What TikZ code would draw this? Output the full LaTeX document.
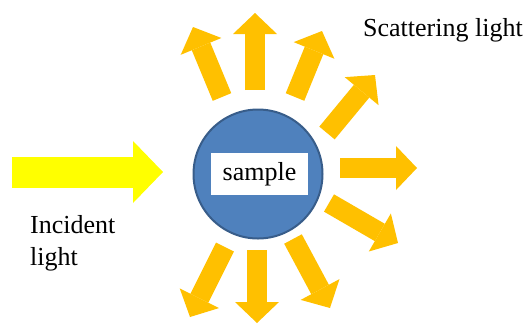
\documentclass[tikz,border=0pt]{standalone}
\usepackage{fontspec}
\setmainfont{Liberation Serif}
\usetikzlibrary{arrows.meta}
\definecolor{sampleblue}{HTML}{4F81BD}
\definecolor{sampleedge}{HTML}{385D8A}
\definecolor{scatorange}{HTML}{FFC000}
\definecolor{incyellow}{HTML}{FFFF00}
\begin{document}
\begin{tikzpicture}[x=1pt,y=-1pt,
    every node/.style={font=\fontsize{26}{32}\selectfont},
    scat/.style={scatorange,line width=20pt,-{Triangle[length=21pt,width=44pt,line width=0pt]}},
    incident/.style={incyellow,line width=31pt,-{Triangle[length=30pt,width=62pt,line width=0pt]}}]
  \useasboundingbox (0,0) rectangle (527,325);
  % Sample
  \node[circle,draw=sampleedge,line width=2pt,fill=sampleblue,minimum size=129pt] (sample) at (258,174) {};
  \node[fill=white,minimum width=97pt,minimum height=42pt,inner sep=0pt] (box) at (259.5,174) {sample};
  % Incident light
  \coordinate (src) at (12,172);
  \coordinate (hit) at (163,172);
  \draw[incident] (src) -- (hit);
  \node[anchor=base west,align=left,inner sep=0pt] (inc) at (30,265) {Incident\\light};
  % Scattered arrows
  \draw[scat] (222,97) -- (193,27);
  \draw[scat] (255,90) -- (255,13);
  \draw[scat] (295,97) -- (322,31);
  \draw[scat] (327,133) -- (375,75);
  \draw[scat] (340,168) -- (417,168);
  \draw[scat] (329,203) -- (398,243);
  \draw[scat] (225,247) -- (190,317);
  \draw[scat] (257,250) -- (257,323);
  \draw[scat] (293,239) -- (330,308);
  % Label
  \node[anchor=base west,inner sep=0pt] (scatlabel) at (363,36) {Scattering light};
\end{tikzpicture}
\end{document}
